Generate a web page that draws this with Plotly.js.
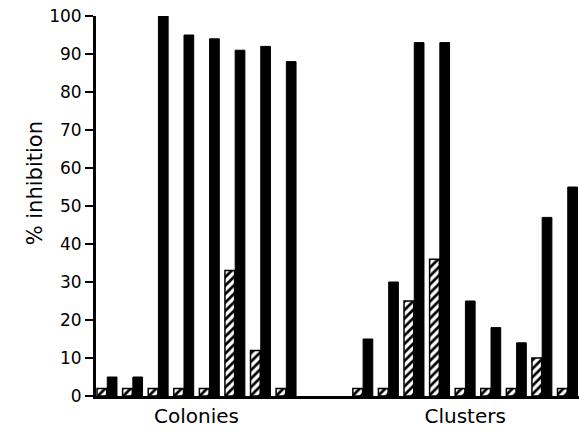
<!DOCTYPE html>
<html>
<head>
<meta charset="utf-8">
<script src="https://cdn.plot.ly/plotly-3.0.1.min.js"></script>
<style>html,body{margin:0;padding:0;background:#fff;}#chart{width:579px;height:432px;}</style>
</head>
<body>
<div id="chart"></div>
<script>
// Data
const groupLabels = ["Colonies", "Clusters"];
const coloniesHatched = [2, 2, 2, 2, 2, 33, 12, 2];
const coloniesBlack   = [5, 5, 100, 95, 94, 91, 92, 88];
const clustersHatched = [2, 2, 25, 36, 2, 2, 2, 10, 2];
const clustersBlack   = [15, 30, 93, 93, 25, 18, 14, 47, 55];
const yTicks = [0, 10, 20, 30, 40, 50, 60, 70, 80, 90, 100];
const yTitle = "% inhibition";

// build slot positions: groups separated by an empty gap of two slots
const gapSlots = 2;
const colX = coloniesHatched.map((_, i) => i);
const cluStart = coloniesHatched.length + gapSlots;
const cluX = clustersHatched.map((_, i) => cluStart + i);
const xs = colX.concat(cluX);
const hatched = coloniesHatched.concat(clustersHatched);
const black = coloniesBlack.concat(clustersBlack);
const mean = a => a.reduce((s, v) => s + v, 0) / a.length;

const FONT = "DejaVu Sans, Liberation Sans, Arial, sans-serif";

const traces = [
  {
    type: "bar", x: xs, y: hatched, name: "hatched",
    marker: {
      color: "#ffffff",
      line: {color: "#000", width: 1.5},
      pattern: {shape: "/", fgcolor: "#000", bgcolor: "#fff", size: 6, solidity: 0.45}
    },
    hoverinfo: "y"
  },
  {
    type: "bar", x: xs, y: black, name: "black",
    marker: {color: "#000", line: {color: "#000", width: 1}},
    hoverinfo: "y"
  }
];

const layout = {
  width: 579, height: 432,
  margin: {l: 96, r: 0, t: 16, b: 36},
  paper_bgcolor: "#fff", plot_bgcolor: "#fff",
  showlegend: false,
  barmode: "group",
  bargap: 0.2,
  bargroupgap: 0.05,
  font: {family: FONT, color: "#000"},
  xaxis: {
    range: [-0.43, 18.45],
    showgrid: false, zeroline: false,
    showline: true, linecolor: "#000", linewidth: 3,
    ticks: "", tickvals: [mean(colX), mean(cluX)], ticktext: groupLabels,
    tickfont: {size: 20, color: "#000", family: FONT},
    fixedrange: true
  },
  yaxis: {
    range: [0, 100],
    tickvals: yTicks,
    showgrid: false, zeroline: false,
    showline: true, linecolor: "#000", linewidth: 3,
    ticks: "outside", ticklen: 8, tickwidth: 2.5, tickcolor: "#000",
    tickfont: {size: 17, color: "#000", family: FONT},
    fixedrange: true
  },
  annotations: [{
    text: yTitle, textangle: -90, showarrow: false,
    xref: "paper", yref: "paper", x: -0.126, y: 0.56,
    xanchor: "center", yanchor: "middle",
    font: {size: 21, color: "#000", family: FONT}
  }]
};

Plotly.newPlot("chart", traces, layout, {staticPlot: true});
</script>
</body>
</html>
